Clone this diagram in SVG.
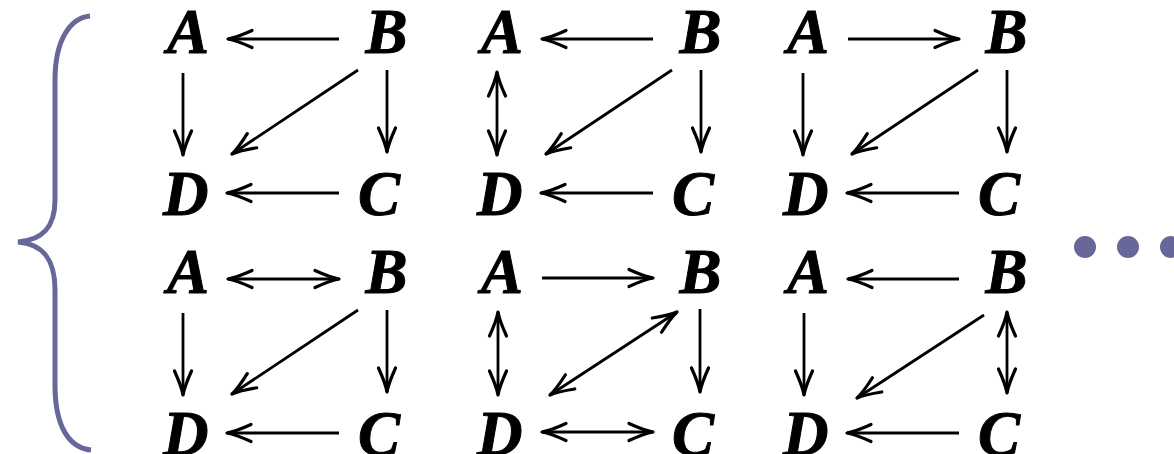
<svg xmlns="http://www.w3.org/2000/svg" width="1174" height="454" viewBox="0 0 1174 454">
<style>
.n{font-family:"Liberation Serif","Times New Roman",serif;font-weight:bold;font-style:italic;font-size:63px;fill:#000;stroke:#000;stroke-width:1}
.c{stroke:#000;stroke-width:2.8;fill:none}
.e{marker-end:url(#ah)}
.s{marker-start:url(#ah)}
.br{stroke:#67679a;stroke-width:5;fill:none}
.dot{fill:#67679a}
</style>
<defs>
<marker id="ah" viewBox="-30 -12 32 24" refX="0" refY="0" markerWidth="32" markerHeight="24" markerUnits="userSpaceOnUse" orient="auto-start-reverse" overflow="visible">
<path d="M-24,-8.5 C-14,-4 -6,-1 0,0 C-6,1 -14,4 -24,8.5" fill="none" stroke="#000" stroke-width="3.2" stroke-linecap="round" stroke-linejoin="round"/>
</marker>
</defs>
<g id="brace"><path class="br" d="M90,16 C70,18 55,40 55,80 L55,200 C55,228 42,240 18,242 C42,244 55,258 55,290 L55,385 C55,428 70,448 91,450"/></g>
<g id="ellipsis"><circle class="dot" cx="1085" cy="247" r="11"/><circle class="dot" cx="1128" cy="247" r="11"/><circle class="dot" cx="1171" cy="247" r="11"/></g>

<g id="grid1">
<g id="g1-A"><text class="n" x="167" y="53">A</text></g>
<g id="g1-B"><text class="n" x="365.5" y="53">B</text></g>
<g id="g1-C"><text class="n" x="358" y="215">C</text></g>
<g id="g1-D"><text class="n" x="163" y="215">D</text></g>
</g>
<g id="grid2" transform="translate(314,0)">
<g id="g2-A"><text class="n" x="167" y="53">A</text></g>
<g id="g2-B"><text class="n" x="365.5" y="53">B</text></g>
<g id="g2-C"><text class="n" x="358" y="215">C</text></g>
<g id="g2-D"><text class="n" x="163" y="215">D</text></g>
</g>
<g id="grid3" transform="translate(620,0)">
<g id="g3-A"><text class="n" x="167" y="53">A</text></g>
<g id="g3-B"><text class="n" x="365.5" y="53">B</text></g>
<g id="g3-C"><text class="n" x="358" y="215">C</text></g>
<g id="g3-D"><text class="n" x="163" y="215">D</text></g>
</g>
<g id="grid4" transform="translate(0,240)">
<g id="g4-A"><text class="n" x="167" y="53">A</text></g>
<g id="g4-B"><text class="n" x="365.5" y="53">B</text></g>
<g id="g4-C"><text class="n" x="358" y="215">C</text></g>
<g id="g4-D"><text class="n" x="163" y="215">D</text></g>
</g>
<g id="grid5" transform="translate(314,240)">
<g id="g5-A"><text class="n" x="167" y="53">A</text></g>
<g id="g5-B"><text class="n" x="365.5" y="53">B</text></g>
<g id="g5-C"><text class="n" x="358" y="215">C</text></g>
<g id="g5-D"><text class="n" x="163" y="215">D</text></g>
</g>
<g id="grid6" transform="translate(620,240)">
<g id="g6-A"><text class="n" x="167" y="53">A</text></g>
<g id="g6-B"><text class="n" x="365.5" y="53">B</text></g>
<g id="g6-C"><text class="n" x="358" y="215">C</text></g>
<g id="g6-D"><text class="n" x="163" y="215">D</text></g>
</g>

<g id="connectors">
<g transform="translate(0,0)">
<line class="c e" x1="339" y1="39" x2="228" y2="39"/>
<line class="c e" x1="183" y1="73" x2="183" y2="155"/>
<line class="c e" x1="387" y1="70" x2="387" y2="152"/>
<line class="c e" x1="358" y1="70" x2="232" y2="154"/>
<line class="c e" x1="339" y1="193" x2="227" y2="193"/>
</g>
<g transform="translate(314,0)">
<line class="c e" x1="339" y1="39" x2="228" y2="39"/>
<line class="c e s" x1="183" y1="72" x2="183" y2="155"/>
<line class="c e" x1="387" y1="70" x2="387" y2="152"/>
<line class="c e" x1="358" y1="70" x2="232" y2="154"/>
<line class="c e" x1="339" y1="193" x2="227" y2="193"/>
</g>
<g transform="translate(620,0)">
<line class="c e" x1="228" y1="39" x2="339" y2="39"/>
<line class="c e" x1="183" y1="73" x2="183" y2="155"/>
<line class="c e" x1="387" y1="70" x2="387" y2="152"/>
<line class="c e" x1="358" y1="70" x2="232" y2="154"/>
<line class="c e" x1="339" y1="193" x2="227" y2="193"/>
</g>
<g transform="translate(0,240)">
<line class="c e s" x1="228" y1="39" x2="339" y2="39"/>
<line class="c e" x1="183" y1="73" x2="183" y2="155"/>
<line class="c e" x1="387" y1="70" x2="387" y2="152"/>
<line class="c e" x1="358" y1="70" x2="232" y2="154"/>
<line class="c e" x1="339" y1="193" x2="227" y2="193"/>
</g>
<g transform="translate(314,240)">
<line class="c e" x1="228" y1="38" x2="339" y2="38"/>
<line class="c e s" x1="184" y1="72" x2="184" y2="155"/>
<line class="c e" x1="386" y1="69" x2="386" y2="152"/>
<line class="c e s" x1="363" y1="72" x2="236" y2="155"/>
<line class="c e s" x1="228" y1="192" x2="339" y2="192"/>
</g>
<g transform="translate(620,240)">
<line class="c e" x1="339" y1="39" x2="228" y2="39"/>
<line class="c e" x1="184" y1="73" x2="184" y2="155"/>
<line class="c e s" x1="387" y1="72" x2="387" y2="153"/>
<line class="c e" x1="364" y1="75" x2="237" y2="158"/>
<line class="c e" x1="339" y1="193" x2="227" y2="193"/>
</g>
</g>
</svg>
